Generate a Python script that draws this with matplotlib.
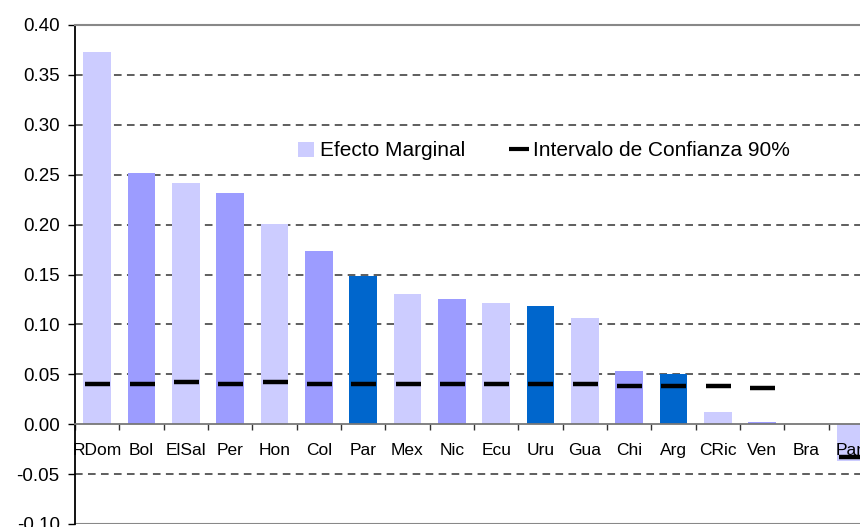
import matplotlib
matplotlib.use("Agg")
import matplotlib.pyplot as plt
from matplotlib.patches import Patch
from matplotlib.lines import Line2D

# data
countries = ["RDom", "Bol", "ElSal", "Per", "Hon", "Col", "Par", "Mex", "Nic",
             "Ecu", "Uru", "Gua", "Chi", "Arg", "CRic", "Ven", "Bra", "Pan"]
marginal_effect = [0.373, 0.252, 0.242, 0.232, 0.201, 0.174, 0.148, 0.130, 0.125,
                   0.121, 0.118, 0.106, 0.053, 0.050, 0.012, 0.002, 0.0, -0.037]
conf_interval = [0.040, 0.040, 0.042, 0.040, 0.042, 0.040, 0.040, 0.040, 0.040,
                 0.040, 0.040, 0.040, 0.038, 0.038, 0.038, 0.036, float("nan"), -0.033]
yticks = [-0.10, -0.05, 0.00, 0.05, 0.10, 0.15, 0.20, 0.25, 0.30, 0.35, 0.40]

LIGHT, MID, DARK = "#CCCCFF", "#9C9CFF", "#0066CC"
bar_colors = [LIGHT, MID, LIGHT, MID, LIGHT, MID, DARK, LIGHT, MID,
              LIGHT, DARK, LIGHT, MID, DARK, LIGHT, MID, MID, LIGHT]

plt.rcParams["font.family"] = ["Liberation Sans", "DejaVu Sans"]

fig = plt.figure(figsize=(8.6, 5.27), dpi=100)
# axes runs past the right edge, like the original crop
ax = fig.add_axes([75 / 860, 3 / 527, 798 / 860, 499 / 527])

x = list(range(len(countries)))
ax.bar(x, marginal_effect, width=0.63, color=bar_colors, zorder=2)
ax.plot(x, conf_interval, linestyle="none", marker="_", markersize=18,
        markeredgewidth=3.2, color="black", zorder=3)

ax.set_xlim(-0.5, len(countries) - 0.5)
ax.set_ylim(-0.10, 0.40)

for y in yticks:
    if -0.10 < y < 0.40 and y != 0:
        ax.axhline(y, color="#333333", linestyle=(0, (5, 3.5)), linewidth=1.1, zorder=1)
ax.axhline(-0.10, color="#888888", linewidth=1.5, zorder=1)

ax.spines["bottom"].set_position(("data", 0))
ax.spines["bottom"].set_color("#777777")
ax.spines["bottom"].set_linewidth(1.3)
ax.spines["top"].set_color("#888888")
ax.spines["top"].set_linewidth(1.5)
ax.spines["right"].set_visible(False)
ax.spines["left"].set_color("black")
ax.spines["left"].set_linewidth(1.3)

ax.set_yticks(yticks)
ax.set_yticklabels([f"{v:.2f}" for v in yticks], fontsize=13.5)
ax.tick_params(axis="y", direction="out", length=5, width=1, colors="black", pad=6)

ax.set_xticks([i - 0.5 for i in range(len(countries) + 1)])
ax.set_xticklabels([])
ax.tick_params(axis="x", direction="out", length=4, width=1, color="#333333")

for i, name in enumerate(countries):
    ax.text(i, -0.0265, name, ha="center", va="center", fontsize=12.5, zorder=4)

handles = [
    Patch(facecolor=LIGHT, edgecolor="none"),
    Line2D([], [], linestyle="none", marker="_", markersize=14,
           markeredgewidth=3, color="black"),
]
fig.legend(handles, ["Efecto Marginal", "Intervalo de Confianza 90%"],
           loc="center left", bbox_to_anchor=(290 / 860, 1 - 151 / 527),
           ncol=2, frameon=False, fontsize=15, handlelength=0.75,
           handletextpad=0.3, columnspacing=2.2, borderaxespad=0)

fig.savefig("out.png", dpi=100)
